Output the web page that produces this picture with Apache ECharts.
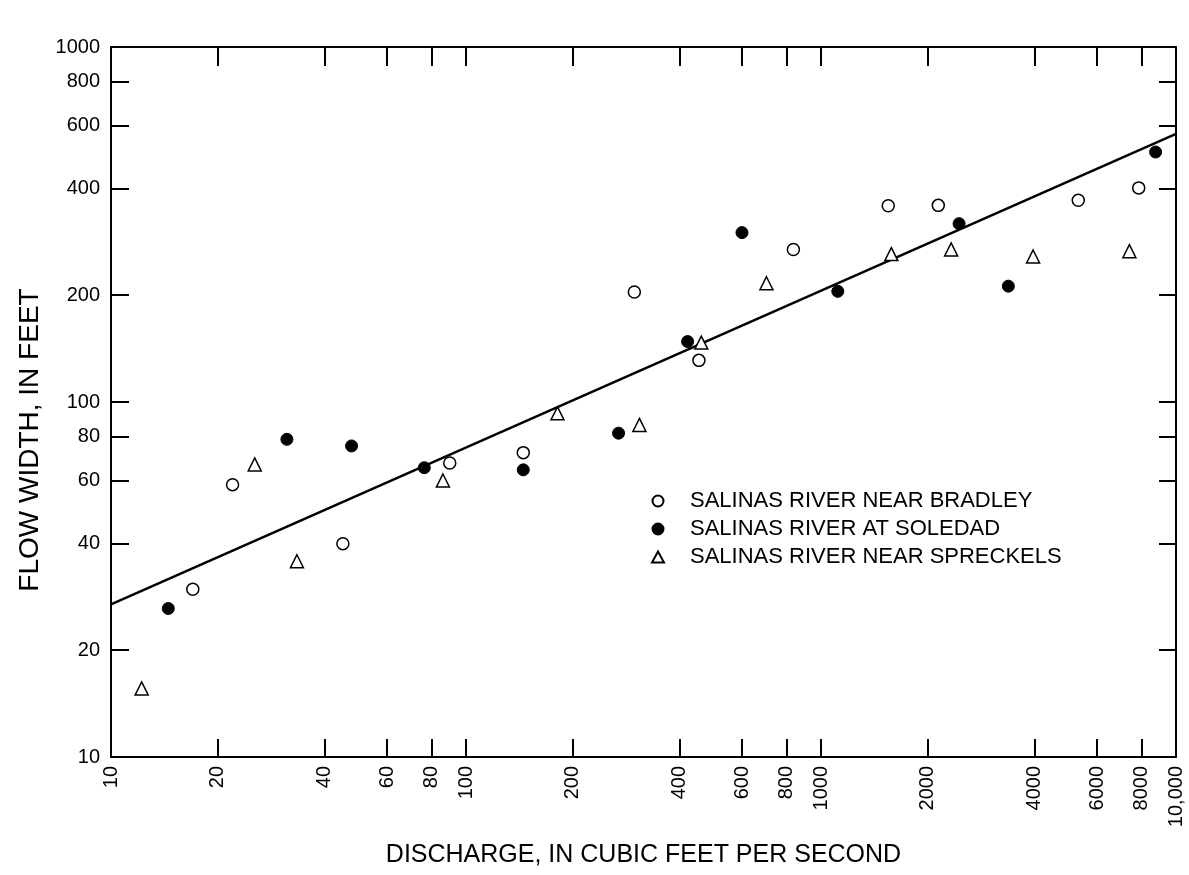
<!DOCTYPE html>
<html>
<head>
<meta charset="utf-8">
<script src="https://cdn.jsdelivr.net/npm/echarts@6/dist/echarts.min.js"></script>
<style>
  html, body { margin: 0; padding: 0; background: #ffffff; }
  #chart { width: 1189px; height: 875px; }
</style>
</head>
<body>
<div id="chart"></div>
<script>
// ---- Data (discharge in cfs, flow width in feet) ----
const bradleyX   = [17.0, 22.0, 45, 90, 145, 298, 453, 836, 1547, 2140, 5305, 7852];
const bradleyY   = [29.7, 58.5, 39.9, 67.3, 72, 204, 131, 269, 357, 358, 370, 401];

const soledadX   = [14.5, 31.3, 47.6, 76.3, 145, 269, 421, 599, 1115, 2449, 3371, 8760];
const soledadY   = [26.2, 78.5, 75.2, 65.3, 64.4, 81.7, 148, 300, 205, 318, 212, 506];

const spreckelsX = [12.2, 25.4, 33.4, 86.1, 181, 308, 460, 702, 1578, 2326, 3958, 7391];
const spreckelsY = [15.6, 66.7, 35.6, 60.1, 92.9, 86.2, 147, 216, 261, 269, 257, 266];

const fitX = [10, 10000];
const fitY = [26.9, 569];

const seriesNames = [
  'SALINAS RIVER NEAR BRADLEY',
  'SALINAS RIVER AT SOLEDAD',
  'SALINAS RIVER NEAR SPRECKELS'
];

const xTickValues  = [20, 40, 60, 80, 100, 200, 400, 600, 800, 1000, 2000, 4000, 6000, 8000];
const xLabelValues = [10, 20, 40, 60, 80, 100, 200, 400, 600, 800, 1000, 2000, 4000, 6000, 8000, 10000];
const yTickValues  = [20, 40, 60, 80, 100, 200, 400, 600, 800];
const yLabelValues = [10, 20, 40, 60, 80, 100, 200, 400, 600, 800, 1000];

const xTitle = 'DISCHARGE, IN CUBIC FEET PER SECOND';
const yTitle = 'FLOW WIDTH, IN FEET';

// ---- Build ----
const zip = (xs, ys) => xs.map((x, i) => [x, ys[i]]);
const FONT = 'Liberation Sans';
const INK = '#000000';

const frameLine = { show: true, lineStyle: { color: INK, width: 2 } };

const chart = echarts.init(document.getElementById('chart'));
chart.setOption({
  animation: false,
  backgroundColor: '#ffffff',
  textStyle: { fontFamily: FONT, color: INK },
  grid: { left: 111, top: 47, width: 1065, height: 710 },
  legend: {
    data: seriesNames,
    orient: 'vertical',
    left: 646,
    top: 485,
    itemWidth: 12,
    itemHeight: 11,
    itemGap: 6,
    selectedMode: false,
    textStyle: { fontFamily: FONT, fontSize: 22, color: INK, lineHeight: 22,
                 padding: [0, 0, 0, 21] }
  },
  xAxis: [
    {
      type: 'log', logBase: 10, min: 10, max: 10000, position: 'bottom',
      axisLine: frameLine,
      splitLine: { show: false },
      axisTick: { show: true, inside: true, length: 18, customValues: xTickValues,
                  lineStyle: { color: INK, width: 2 } },
      axisLabel: {
        show: true, customValues: xLabelValues, rotate: 90, margin: 9,
        fontFamily: FONT, fontSize: 20, color: INK,
        formatter: v => (v >= 10000 ? '10,000' : String(v))
      },
      name: xTitle, nameLocation: 'middle', nameGap: 86,
      nameTextStyle: { fontFamily: FONT, fontSize: 25, color: INK }
    },
    {
      type: 'log', logBase: 10, min: 10, max: 10000, position: 'top',
      axisLine: frameLine,
      splitLine: { show: false },
      axisTick: { show: true, inside: true, length: 19, customValues: xTickValues,
                  lineStyle: { color: INK, width: 2 } },
      axisLabel: { show: false }
    }
  ],
  yAxis: [
    {
      type: 'log', logBase: 10, min: 10, max: 1000, position: 'left',
      axisLine: frameLine,
      splitLine: { show: false },
      axisTick: { show: true, inside: true, length: 18, customValues: yTickValues,
                  lineStyle: { color: INK, width: 2 } },
      axisLabel: {
        show: true, customValues: yLabelValues, margin: 11,
        fontFamily: FONT, fontSize: 20, color: INK,
        formatter: v => String(v)
      },
      name: yTitle, nameLocation: 'middle', nameRotate: 90, nameGap: 49,
      nameTextStyle: { fontFamily: FONT, fontSize: 28, color: INK, padding: [0, 76, 0, 0] }
    },
    {
      type: 'log', logBase: 10, min: 10, max: 1000, position: 'right',
      axisLine: frameLine,
      splitLine: { show: false },
      axisTick: { show: true, inside: true, length: 17, customValues: yTickValues,
                  lineStyle: { color: INK, width: 2 } },
      axisLabel: { show: false }
    }
  ],
  series: [
    {
      name: 'fit', type: 'line', data: zip(fitX, fitY),
      showSymbol: false, symbol: 'none', silent: true, z: 1,
      lineStyle: { color: INK, width: 2.5 }
    },
    {
      name: seriesNames[0], type: 'scatter', data: zip(bradleyX, bradleyY),
      symbol: 'circle', symbolSize: 12, z: 3,
      itemStyle: { color: '#ffffff', borderColor: INK, borderWidth: 1.5, opacity: 1 }
    },
    {
      name: seriesNames[1], type: 'scatter', data: zip(soledadX, soledadY),
      symbol: 'circle', symbolSize: 12, z: 3,
      itemStyle: { color: INK, borderColor: INK, borderWidth: 1, opacity: 1 }
    },
    {
      name: seriesNames[2], type: 'scatter', data: zip(spreckelsX, spreckelsY),
      symbol: 'triangle', symbolSize: 13, symbolKeepAspect: true, z: 3,
      itemStyle: { color: '#ffffff', borderColor: INK, borderWidth: 1.5, opacity: 1 }
    }
  ]
});
</script>
</body>
</html>
